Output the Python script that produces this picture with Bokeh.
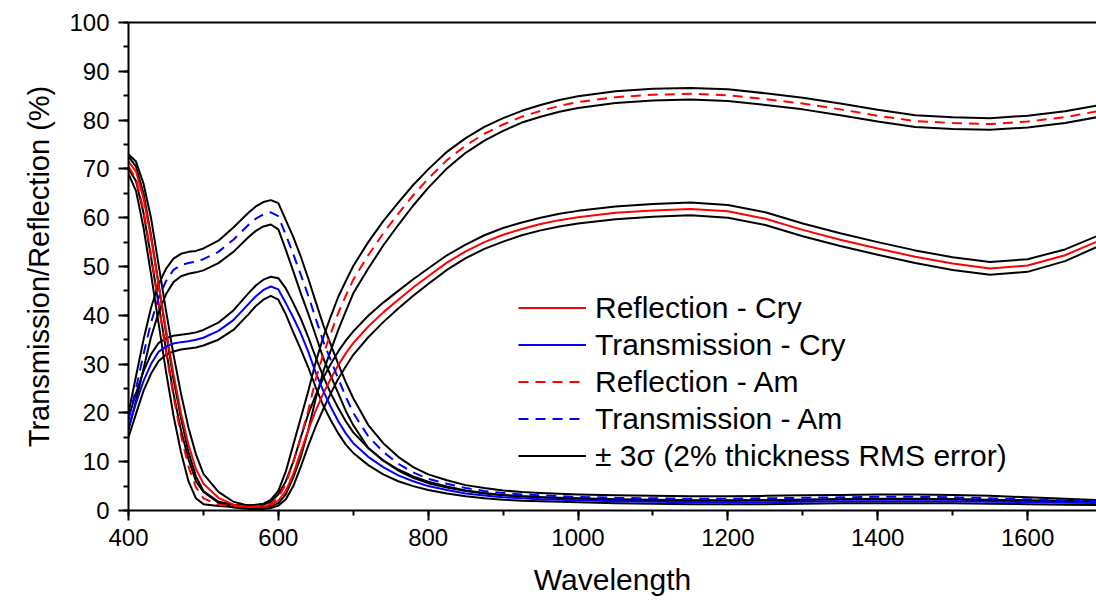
from bokeh.plotting import figure
from bokeh.models import (Range1d, SingleIntervalTicker, LinearAxis, Legend, LegendItem, Title)
from bokeh.embed import file_html
from bokeh.resources import INLINE

wavelength = [400, 410, 420, 430, 440, 450, 460, 470, 480, 490,
              500, 520, 540, 560, 570, 580, 590, 600, 610, 620, 630,
              640, 650, 660, 670, 680, 690, 700, 720, 740, 760,
              780, 800, 825, 850, 875, 900, 925, 950, 975, 1000,
              1050, 1100, 1150, 1200,
              1250, 1300, 1350, 1400, 1450, 1500, 1550, 1600, 1650, 1700]

refl_cry = [71.5, 69.5, 64, 56, 46.5, 37, 28, 20, 13.5, 8.5,
            5.5, 2.6, 1.2, 0.7, 0.7, 0.8, 1.1, 2, 4, 7.5, 12,
            16.5, 20.5, 24, 27, 29.8, 32.2, 34.3, 37.7, 40.6, 43.2,
            45.7, 48, 50.8, 53.1, 55, 56.5, 57.7, 58.7, 59.5, 60.1,
            61, 61.5, 61.8, 61.3,
            59.8, 57.5, 55.5, 53.7, 52, 50.6, 49.6, 50.2, 52.3, 55.6]
refl_cry_hi = [73, 71.5, 67, 60, 50.5, 41, 32, 24, 17, 11.5,
               7.5, 3.8, 1.8, 1, 1, 1.2, 1.8, 3.3, 6, 10, 15,
               19.8, 23.7, 27.2, 30, 32.6, 34.8, 36.7, 39.9, 42.6, 45,
               47.4, 49.6, 52.3, 54.5, 56.4, 57.9, 59, 60, 60.8, 61.4,
               62.3, 62.8, 63.1, 62.6,
               61.1, 58.8, 56.8, 55, 53.3, 51.9, 50.9, 51.5, 53.5, 56.7]
refl_cry_lo = [70, 67.5, 61, 52, 42.5, 33, 24, 16.5, 10.5, 6,
               3.8, 1.6, 0.6, 0.3, 0.3, 0.3, 0.5, 1, 2.3, 5, 9,
               13.3, 17.3, 20.8, 24, 27, 29.5, 31.9, 35.5, 38.6, 41.4,
               44, 46.4, 49.3, 51.7, 53.6, 55.1, 56.4, 57.4, 58.2, 58.8,
               59.7, 60.2, 60.5, 60,
               58.5, 56.2, 54.2, 52.4, 50.7, 49.3, 48.3, 48.9, 51.1, 54.5]

refl_am = [70.5, 68, 61.5, 52.5, 42.5, 32.5, 23.5, 15.5, 9, 4.8,
           2.5, 1.2, 0.9, 0.8, 0.85, 1, 1.4, 2.6, 5.5, 10, 15,
           20.5, 27, 32, 36.3, 40.5, 44, 47.3, 52.3, 56.8, 60.8,
           64.6, 68, 71.8, 74.8, 77.2, 79.1, 80.7, 81.9, 82.9, 83.7,
           84.7, 85.2, 85.4, 85.1,
           84.3, 83.4, 82.2, 80.9, 79.8, 79.4, 79.2, 79.7, 80.6, 82]
refl_am_hi = [72.5, 70.5, 65, 56.5, 46.5, 36.5, 27, 19, 12, 7,
              4, 1.8, 1.2, 1.1, 1.2, 1.4, 2.2, 4, 8, 13.5, 19,
              24.5, 30.5, 35.5, 39.8, 43.8, 47, 50.1, 55, 59.3, 63.1,
              66.7, 69.9, 73.5, 76.3, 78.6, 80.4, 81.9, 83.1, 84.1, 84.9,
              85.9, 86.4, 86.6, 86.3,
              85.5, 84.6, 83.4, 82.1, 81, 80.6, 80.4, 80.9, 81.8, 83.2]
refl_am_lo = [69, 65.5, 58, 48.5, 38.5, 28.5, 19.5, 12, 6, 2.5,
              1.3, 0.9, 0.7, 0.6, 0.6, 0.7, 0.9, 1.5, 3.3, 6.8, 11,
              16.5, 23, 28.5, 32.8, 37, 40.8, 44.5, 49.6, 54.3, 58.5,
              62.5, 66.1, 70.1, 73.3, 75.8, 77.8, 79.5, 80.7, 81.7, 82.5,
              83.5, 84, 84.2, 83.9,
              83.1, 82.2, 81, 79.7, 78.6, 78.2, 78, 78.5, 79.4, 80.8]

trans_cry = [17, 22, 26.5, 30, 32.5, 33.6, 34.2, 34.5, 34.7, 35,
             35.4, 36.8, 39, 42.3, 43.9, 45.2, 45.9, 45.3, 42.5, 39.5, 36.3,
             32.5, 28.2, 24.5, 21.2, 18.3, 15.8, 13.8, 11, 8.9, 7.2,
             6, 5, 4.2, 3.5, 3.05, 2.7, 2.5, 2.3, 2.2, 2.1,
             1.9, 1.8, 1.7, 1.7,
             1.7, 1.8, 1.9, 1.9, 1.9, 1.9, 1.8, 1.7, 1.6, 1.5]
trans_cry_hi = [19, 24, 28.5, 32, 34.3, 35.3, 35.8, 36, 36.2, 36.5,
                37, 38.5, 41, 44.5, 46.1, 47.3, 47.9, 47.6, 45.5, 42.5, 39.3,
                35.5, 31.3, 27.5, 24, 21, 18.3, 16, 12.8, 10.3, 8.4,
                7, 5.9, 4.9, 4.1, 3.6, 3.2, 2.9, 2.7, 2.6, 2.5,
                2.3, 2.2, 2.1, 2.1,
                2.1, 2.2, 2.3, 2.3, 2.3, 2.3, 2.2, 2.1, 2, 1.9]
trans_cry_lo = [15, 19.8, 24.5, 28, 30.6, 31.9, 32.6, 33, 33.2, 33.4,
                33.8, 35, 37, 40.2, 41.9, 43.2, 44, 43.2, 40.2, 36.5, 33,
                29.3, 25.2, 21.5, 18.5, 15.8, 13.5, 11.8, 9.3, 7.4, 6,
                5, 4.2, 3.5, 2.9, 2.5, 2.2, 2, 1.9, 1.8, 1.7,
                1.5, 1.4, 1.3, 1.3,
                1.3, 1.4, 1.5, 1.5, 1.5, 1.5, 1.4, 1.3, 1.2, 1.1]

trans_am = [18.5, 25, 32, 38.5, 43.5, 47, 49.3, 50.3, 50.7, 51,
            51.5, 53, 55.5, 58.5, 59.8, 60.7, 61.1, 60.3, 56.5, 52.5, 48.3,
            44, 39.3, 34.6, 30.8, 27, 23.3, 20, 15.2, 12, 9.6,
            7.8, 6.5, 5.5, 4.6, 4, 3.6, 3.3, 3.1, 2.95, 2.8,
            2.6, 2.5, 2.4, 2.4,
            2.5, 2.6, 2.7, 2.8, 2.8, 2.7, 2.5, 2.3, 2.1, 1.9]
trans_am_hi = [20, 27.5, 35, 41.5, 46.3, 49.5, 51.6, 52.6, 53, 53.2,
               53.7, 55.3, 58, 61, 62.3, 63.2, 63.6, 63, 59.5, 56, 52,
               47.5, 42.7, 38, 34, 30, 26.3, 23, 17.5, 13.8, 11,
               8.9, 7.4, 6.2, 5.2, 4.6, 4.1, 3.8, 3.6, 3.45, 3.3,
               3.1, 3, 2.9, 2.9,
               3, 3.1, 3.2, 3.3, 3.3, 3.2, 3, 2.7, 2.4, 2.1]
trans_am_lo = [16.5, 22.5, 29, 35.5, 40.5, 44.3, 46.8, 48, 48.5, 48.8,
               49.2, 50.7, 53, 56, 57.3, 58.2, 58.6, 57.6, 53.4, 49, 44.5,
               40.3, 35.8, 31.2, 27.6, 24, 20.4, 17.5, 12.8, 10.2, 8.2,
               6.7, 5.6, 4.7, 4, 3.5, 3.1, 2.9, 2.7, 2.55, 2.4,
               2.2, 2.1, 2, 2,
               2.1, 2.2, 2.3, 2.4, 2.4, 2.3, 2.1, 2, 1.8, 1.6]

labels = ["Reflection - Cry", "Transmission - Cry", "Reflection - Am",
          "Transmission - Am", "\u00b1 3\u03c3 (2% thickness RMS error)"]
x_title = "Wavelength"
y_title = "Transmission/Reflection (%)"

FONT = "Liberation Sans"

p = figure(width=1096, height=601, output_backend="svg", toolbar_location=None,
           x_range=Range1d(400, 1692), y_range=Range1d(0, 100),
           min_border_left=128, min_border_right=0, min_border_top=22,
           min_border_bottom=91)
p.outline_line_color = None
p.grid.visible = False
p.background_fill_color = "white"
p.border_fill_color = "white"

xa = p.xaxis[0]
ya = p.yaxis[0]
xa.ticker = SingleIntervalTicker(interval=200, num_minor_ticks=2)
ya.ticker = SingleIntervalTicker(interval=10, num_minor_ticks=2)
for ax in (xa, ya):
    ax.axis_line_width = 2
    ax.axis_line_color = "black"
    ax.major_tick_line_width = 2
    ax.minor_tick_line_width = 2
    ax.major_tick_line_color = "black"
    ax.minor_tick_line_color = "black"
    ax.major_tick_in = 0
    ax.major_tick_out = 10
    ax.minor_tick_in = 0
    ax.minor_tick_out = 5
    ax.major_label_text_font = FONT
    ax.major_label_text_font_size = "24px"
    ax.major_label_text_color = "black"
    ax.axis_label_text_font = FONT
    ax.axis_label_text_font_size = "30px"
    ax.axis_label_text_font_style = "normal"
    ax.axis_label_text_color = "black"
xa.axis_label = x_title
xa.major_label_standoff = 8
ya.major_label_standoff = 9
xa.axis_label_standoff = 14

ytitle = Title(text=y_title, align="center", offset=13, standoff=24,
               text_font=FONT, text_font_size="29px", text_font_style="normal",
               text_color="black")
p.add_layout(ytitle, "left")

top = LinearAxis(axis_line_width=2, axis_line_color="black",
                 major_tick_line_color=None, minor_tick_line_color=None,
                 major_label_text_font_size="0px", major_label_text_color=None)
p.add_layout(top, "above")

LW = 2
black_rs = []
for arr in (refl_cry_hi, refl_cry_lo, refl_am_hi, refl_am_lo,
            trans_cry_hi, trans_cry_lo, trans_am_hi, trans_am_lo):
    black_rs.append(p.line(wavelength, arr, line_color="black", line_width=LW,
                           line_join="round"))

r1 = p.line(wavelength, refl_cry, line_color="#ff0000", line_width=LW, line_join="round")
r2 = p.line(wavelength, trans_cry, line_color="#0000ff", line_width=LW, line_join="round")
r3 = p.line(wavelength, refl_am, line_color="#ff0000", line_width=LW, line_dash="10 7")
r4 = p.line(wavelength, trans_am, line_color="#0000ff", line_width=LW, line_dash="10 7")

legend = Legend(items=[LegendItem(label=labels[0], renderers=[r1]),
                       LegendItem(label=labels[1], renderers=[r2]),
                       LegendItem(label=labels[2], renderers=[r3]),
                       LegendItem(label=labels[3], renderers=[r4]),
                       LegendItem(label=labels[4], renderers=[black_rs[0]])],
                location=(390, 36))
legend.label_text_font = FONT
legend.label_text_font_size = "30px"
legend.label_text_color = "black"
legend.glyph_width = 68
legend.glyph_height = 37
legend.label_height = 37
legend.label_standoff = 9
legend.spacing = 0
legend.padding = 0
legend.margin = 0
legend.border_line_color = None
legend.background_fill_alpha = 0
p.add_layout(legend)

open("out.html", "w").write(file_html(p, INLINE))
